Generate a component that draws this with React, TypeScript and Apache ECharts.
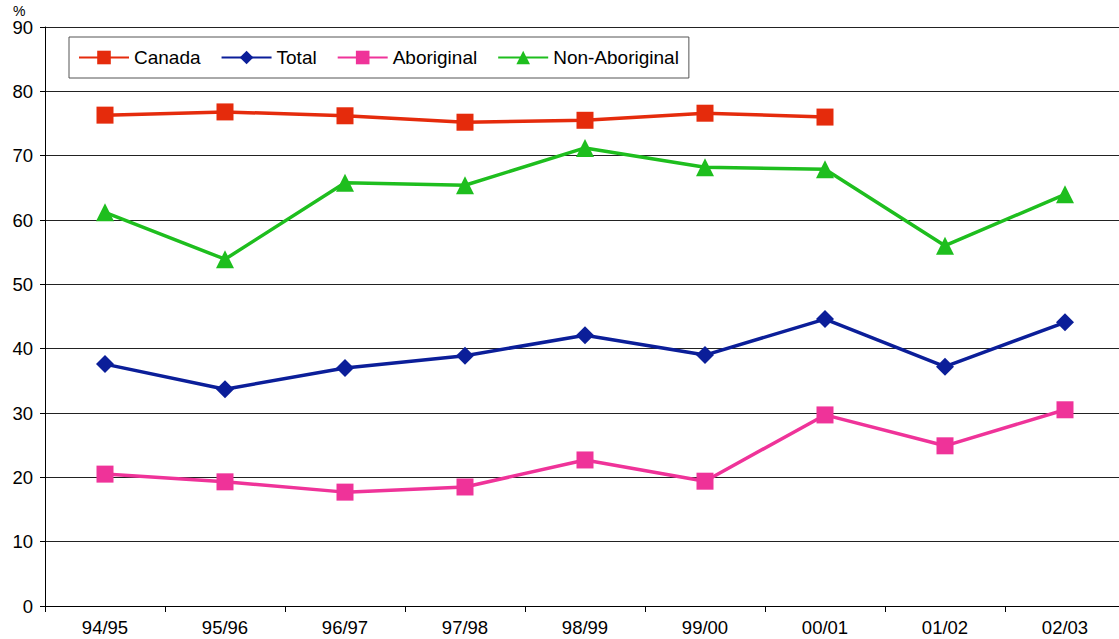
import React, { useEffect, useRef } from "react";
import * as echarts from "echarts";

const categories = ["94/95", "95/96", "96/97", "97/98", "98/99", "99/00", "00/01", "01/02", "02/03"];
const canada = [76.3, 76.8, 76.2, 75.2, 75.5, 76.6, 76.0, null, null];
const total = [37.6, 33.7, 37.0, 38.9, 42.1, 39.0, 44.6, 37.2, 44.1];
const aboriginal = [20.5, 19.3, 17.7, 18.5, 22.7, 19.4, 29.7, 24.9, 30.5];
const nonAboriginal = [61.2, 53.9, 65.8, 65.4, 71.2, 68.2, 67.9, 56.0, 64.0];
const yTicks = { min: 0, max: 90, interval: 10 };

const FONT = "Liberation Sans, Arial, Helvetica, sans-serif";

export default function App() {
  const ref = useRef<HTMLDivElement>(null);
  useEffect(() => {
    document.body.style.margin = "0";
    const chart = echarts.init(ref.current!, undefined, { renderer: "svg" });
    const mk = (name: string, data: (number | null)[], color: string, symbol: string, size: number) => ({
      name,
      type: "line",
      data,
      color,
      symbol,
      symbolSize: size,
      lineStyle: { width: 3.5, color },
      itemStyle: { color },
      connectNulls: false,
    });
    chart.setOption({
      animation: false,
      backgroundColor: "#ffffff",
      textStyle: { fontFamily: FONT },
      grid: { left: 45, right: 0, top: 27, bottom: 33 },
      legend: {
        left: 69,
        top: 37,
        padding: [11, 10, 11, 9],
        itemWidth: 50,
        itemHeight: 17,
        itemGap: 20,
        borderColor: "#555",
        borderWidth: 1,
        textStyle: { fontSize: 19, color: "#000", fontFamily: FONT },
        data: ["Canada", "Total", "Aboriginal", "Non-Aboriginal"],
      },
      graphic: [
        {
          type: "text",
          left: 13,
          top: 4,
          style: { text: "%", fontSize: 14, fill: "#000", fontFamily: FONT },
        },
      ],
      xAxis: {
        type: "category",
        data: categories,
        boundaryGap: true,
        axisLine: { lineStyle: { color: "#000", width: 1 } },
        axisTick: { show: true, length: 6, lineStyle: { color: "#000" } },
        axisLabel: { fontSize: 18.5, color: "#000", margin: 12, fontFamily: FONT },
      },
      yAxis: {
        type: "value",
        min: yTicks.min,
        max: yTicks.max,
        interval: yTicks.interval,
        axisLine: { show: true, lineStyle: { color: "#000", width: 1 } },
        axisTick: { show: true, length: 5, lineStyle: { color: "#000" } },
        axisLabel: { fontSize: 18.5, color: "#000", margin: 12, fontFamily: FONT },
        splitLine: { show: true, lineStyle: { color: "#222", width: 1 } },
      },
      series: [
        mk("Canada", canada, "#E52B0C", "rect", 17),
        mk("Total", total, "#0B1E99", "diamond", 18),
        mk("Aboriginal", aboriginal, "#EF3399", "rect", 17),
        mk("Non-Aboriginal", nonAboriginal, "#1EBE1E", "triangle", 18),
      ],
    });
    return () => chart.dispose();
  }, []);
  return (
    <div style={{ width: 1119, height: 639, overflow: "hidden", position: "relative" }}>
      <div ref={ref} style={{ width: 1125, height: 639 }} />
    </div>
  );
}
